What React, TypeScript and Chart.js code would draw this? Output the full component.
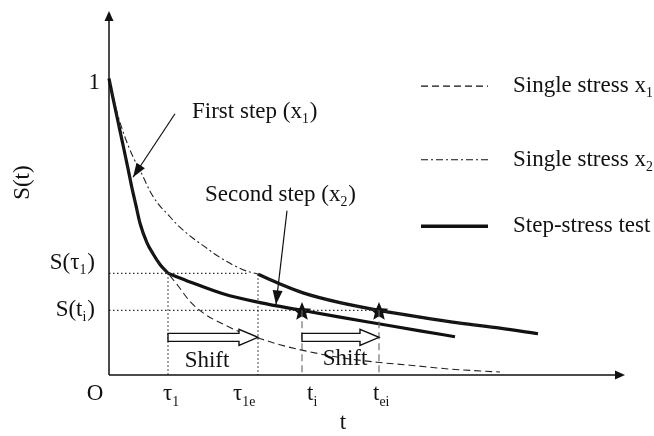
import React, { useEffect, useRef } from "react";
import { Chart, registerables } from "chart.js";

Chart.register(...registerables);

// ---------- data (t in time units, S = survival probability) ----------
const stepFirstT = [0, 0.4, 0.9, 1.4, 1.9, 2.3, 2.7, 3.1, 3.8, 4.4, 5.1, 5.9];
const stepFirstS = [1.0, 0.934, 0.855, 0.776, 0.696, 0.63, 0.571, 0.512, 0.446, 0.409, 0.373, 0.343];

const stepSecondT = [5.9, 8.1, 11.4, 15.1, 19.3, 23.1, 27.1, 31.1, 34.6];
const stepSecondS = [0.343, 0.314, 0.274, 0.244, 0.218, 0.195, 0.172, 0.149, 0.129];

const shiftedT = [14.9, 17.1, 19.4, 23.1, 27.0, 31.1, 35.1, 39.1, 42.9];
const shiftedS = [0.34, 0.307, 0.277, 0.244, 0.218, 0.195, 0.175, 0.158, 0.139];

const single1TailT = [6.9, 8.1, 9.6, 11.4, 13.1, 14.9, 17.1, 19.4, 23.1, 26.8, 30.1, 34.1, 39.1];
const single1TailS = [0.301, 0.248, 0.205, 0.172, 0.145, 0.125, 0.102, 0.083, 0.059, 0.043, 0.033, 0.02, 0.01];

const single2T = [0, 0.4, 0.9, 1.6, 2.4, 3.3, 4.1, 4.9, 5.9, 6.8, 8.1, 9.6, 10.8, 12.3, 13.8, 14.9, 17.1, 19.4, 23.1, 27.0, 31.1, 35.1, 39.6];
const single2S = [1.0, 0.941, 0.875, 0.802, 0.736, 0.677, 0.62, 0.578, 0.541, 0.508, 0.469, 0.432, 0.403, 0.373, 0.35, 0.34, 0.307, 0.277, 0.244, 0.218, 0.195, 0.175, 0.156];

// key times: tau1, tau1e, ti, tei
const keyT = [5.9, 14.9, 19.3, 27.0];
const keyS = [0.343, 0.34, 0.218, 0.218];
const levelEndT = [13.8, 27.0]; // ends of the dotted S(tau1), S(ti) lines
const levelS = [0.343, 0.218];

const starT = [19.3, 27.0];
const starS = [0.216, 0.216];

// tick labels
const tickLabelT = [5.4, 12.4, 19.8, 26.4];
const tickMain = ["\u03c4", "\u03c4", "t", "t"];
const tickSub = ["1", "1e", "i", "ei"];

const legendLabels = ["Single stress x", "Single stress x", "Step-stress test"];
const legendSubs = ["1", "2", ""];

const X_MAX = 51.6;
const Y_MAX = 1.2277;

const FONT = '"Liberation Serif", "Times New Roman", serif';
const FS = 23;

const pts = (t: number[], s: number[]) => t.map((v, i) => ({ x: v, y: s[i] }));

function txt(
  ctx: CanvasRenderingContext2D,
  main: string,
  sub: string,
  tail: string,
  x: number,
  y: number,
  size: number,
  align: "left" | "right" | "center"
) {
  const subSize = size * 0.6;
  ctx.font = `${size}px ${FONT}`;
  const w1 = ctx.measureText(main).width;
  const w3 = ctx.measureText(tail).width;
  ctx.font = `${subSize}px ${FONT}`;
  const w2 = ctx.measureText(sub).width;
  const w = w1 + w2 + w3 + (sub ? 1 : 0);
  let cx = align === "right" ? x - w : align === "center" ? x - w / 2 : x;
  ctx.textAlign = "left";
  ctx.textBaseline = "alphabetic";
  ctx.font = `${size}px ${FONT}`;
  ctx.fillText(main, cx, y);
  cx += w1;
  if (sub) {
    ctx.font = `${subSize}px ${FONT}`;
    ctx.fillText(sub, cx, y + size * 0.22);
    cx += w2 + 1;
  }
  ctx.font = `${size}px ${FONT}`;
  ctx.fillText(tail, cx, y);
}

function makeStar(): HTMLCanvasElement {
  const c = document.createElement("canvas");
  c.width = 22;
  c.height = 22;
  const g = c.getContext("2d")!;
  g.fillStyle = "#111";
  g.beginPath();
  for (let i = 0; i < 10; i++) {
    const r = i % 2 === 0 ? 9.8 : 4.4;
    const a = -Math.PI / 2 + (i * Math.PI) / 5;
    const px = 11 + r * Math.cos(a);
    const py = 11.8 + r * Math.sin(a);
    if (i === 0) g.moveTo(px, py);
    else g.lineTo(px, py);
  }
  g.closePath();
  g.fill();
  return c;
}

function arrowHead(ctx: CanvasRenderingContext2D, x0: number, y0: number, x1: number, y1: number, len: number, half: number) {
  const a = Math.atan2(y1 - y0, x1 - x0);
  ctx.beginPath();
  ctx.moveTo(x1, y1);
  ctx.lineTo(x1 - len * Math.cos(a) + half * Math.sin(a), y1 - len * Math.sin(a) - half * Math.cos(a));
  ctx.lineTo(x1 - len * Math.cos(a) - half * Math.sin(a), y1 - len * Math.sin(a) + half * Math.cos(a));
  ctx.closePath();
  ctx.fill();
}

const schematic = {
  id: "schematic",
  afterDatasetsDraw(chart: any) {
    const ctx: CanvasRenderingContext2D = chart.ctx;
    const xs = chart.scales.x;
    const ys = chart.scales.y;
    const X = (v: number) => xs.getPixelForValue(v);
    const Y = (v: number) => ys.getPixelForValue(v);
    const ca = chart.chartArea;
    ctx.save();
    ctx.fillStyle = "#111";
    ctx.strokeStyle = "#111";

    // axes
    const ox = X(0);
    const oy = Y(0);
    ctx.lineWidth = 1.5;
    ctx.setLineDash([]);
    ctx.beginPath();
    ctx.moveTo(ox, oy);
    ctx.lineTo(ox, ca.top + 8);
    ctx.moveTo(ox, oy);
    ctx.lineTo(ca.right - 8, oy);
    ctx.stroke();
    arrowHead(ctx, ox, oy, ox, ca.top, 10, 4.5);
    arrowHead(ctx, ox, oy, ca.right, oy, 10, 4.5);

    // shift arrows (hollow)
    const shiftY = Y(0.127);
    for (let i = 0; i < 2; i++) {
      const x0 = X(keyT[i * 2]);
      const x1 = X(keyT[i * 2 + 1]);
      const xh = x1 - 19;
      ctx.beginPath();
      ctx.moveTo(x0, shiftY - 4);
      ctx.lineTo(xh, shiftY - 4);
      ctx.lineTo(xh, shiftY - 8);
      ctx.lineTo(x1, shiftY);
      ctx.lineTo(xh, shiftY + 8);
      ctx.lineTo(xh, shiftY + 4);
      ctx.lineTo(x0, shiftY + 4);
      ctx.closePath();
      ctx.fillStyle = "#fff";
      ctx.fill();
      ctx.lineWidth = 1.4;
      ctx.stroke();
    }
    ctx.fillStyle = "#111";

    // pointer arrows
    ctx.lineWidth = 1.2;
    const ptrs = [
      [6.6, 0.881, 2.4, 0.667],
      [17.8, 0.554, 16.7, 0.238],
    ];
    for (const [a, b, c, d] of ptrs) {
      ctx.beginPath();
      ctx.moveTo(X(a), Y(b));
      ctx.lineTo(X(c), Y(d));
      ctx.stroke();
      arrowHead(ctx, X(a), Y(b), X(c), Y(d), 14, 5);
    }

    // texts
    txt(ctx, "First step (x", "1", ")", X(8.3), Y(0.868), FS, "left");
    txt(ctx, "Second step (x", "2", ")", X(9.6), Y(0.587), FS, "left");
    txt(ctx, "Shift", "", "", X(9.8), Y(0.027), FS, "center");
    txt(ctx, "Shift", "", "", X(23.6), Y(0.033), FS, "center");

    // y labels
    txt(ctx, "1", "", "", X(-0.9), Y(0.964), FS, "right");
    txt(ctx, "S(\u03c4", "1", ")", X(-1.4), Y(levelS[0]) - 4, FS, "right");
    txt(ctx, "S(t", "i", ")", X(-1.4), Y(levelS[1]) + 6, FS, "right");
    txt(ctx, "O", "", "", X(-1.4), Y(-0.086), FS, "center");

    // x tick labels
    for (let i = 0; i < tickMain.length; i++) {
      txt(ctx, tickMain[i], tickSub[i], "", X(tickLabelT[i]), Y(-0.086), FS, "left");
    }
    txt(ctx, "t", "", "", X(23.4), Y(-0.181), FS, "center");

    // y title rotated
    ctx.save();
    ctx.translate(23, Y(0.649));
    ctx.rotate(-Math.PI / 2);
    ctx.font = `${FS}px ${FONT}`;
    ctx.textAlign = "center";
    ctx.textBaseline = "middle";
    ctx.fillText("S(t)", 0, 0);
    ctx.restore();

    // legend
    const legY = [0.974, 0.726, 0.502];
    const dashes = [[7, 4], [7, 3, 2, 3], []];
    const widths = [1.2, 1.2, 3.5];
    for (let i = 0; i < 3; i++) {
      ctx.beginPath();
      ctx.setLineDash(dashes[i]);
      ctx.lineWidth = widths[i];
      ctx.moveTo(X(31.2), Y(legY[i]));
      ctx.lineTo(X(37.9), Y(legY[i]));
      ctx.stroke();
      ctx.setLineDash([]);
      txt(ctx, legendLabels[i], legendSubs[i], "", X(40.4), Y(legY[i]) + 6, FS, "left");
    }
    ctx.restore();
  },
};

export default function App() {
  const ref = useRef<HTMLCanvasElement | null>(null);
  useEffect(() => {
    document.body.style.margin = "0";
    const star = makeStar();
    const dotted = { borderColor: "#333", borderWidth: 1.2, borderDash: [1.5, 2.5], pointRadius: 0, tension: 0 };
    const grayDash = { borderColor: "#666", borderWidth: 1.1, borderDash: [7, 4], pointRadius: 0, tension: 0 };
    const datasets: any[] = [
      { label: "S(tau1) level", data: [{ x: 0, y: levelS[0] }, { x: levelEndT[0], y: levelS[0] }], ...dotted },
      { label: "S(ti) level", data: [{ x: 0, y: levelS[1] }, { x: levelEndT[1], y: levelS[1] }], ...dotted },
      { label: "tau1", data: [{ x: keyT[0], y: keyS[0] }, { x: keyT[0], y: 0 }], ...dotted },
      { label: "tau1e", data: [{ x: keyT[1], y: keyS[1] }, { x: keyT[1], y: 0 }], ...dotted },
      { label: "ti", data: [{ x: keyT[2], y: keyS[2] }, { x: keyT[2], y: 0 }], ...grayDash },
      { label: "tei", data: [{ x: keyT[3], y: keyS[3] }, { x: keyT[3], y: 0 }], ...grayDash },
      {
        label: "Single stress x1",
        data: pts([...stepFirstT, ...single1TailT], [...stepFirstS, ...single1TailS]),
        borderColor: "#222",
        borderWidth: 1.1,
        borderDash: [7, 4],
        pointRadius: 0,
        cubicInterpolationMode: "monotone",
      },
      {
        label: "Single stress x2",
        data: pts(single2T, single2S),
        borderColor: "#222",
        borderWidth: 1.1,
        borderDash: [7, 3, 2, 3],
        pointRadius: 0,
        cubicInterpolationMode: "monotone",
      },
      {
        label: "Step-stress first",
        data: pts(stepFirstT, stepFirstS),
        borderColor: "#111",
        borderWidth: 3.2,
        pointRadius: 0,
        cubicInterpolationMode: "monotone",
      },
      {
        label: "Step-stress second",
        data: pts(stepSecondT, stepSecondS),
        borderColor: "#111",
        borderWidth: 3.2,
        pointRadius: 0,
        cubicInterpolationMode: "monotone",
      },
      {
        label: "Step-stress shifted",
        data: pts(shiftedT, shiftedS),
        borderColor: "#111",
        borderWidth: 3.2,
        pointRadius: 0,
        cubicInterpolationMode: "monotone",
      },
      {
        label: "stars",
        data: pts(starT, starS),
        showLine: false,
        pointStyle: star,
        pointRadius: 11,
        borderWidth: 0,
      },
    ];
    const chart = new Chart(ref.current!, {
      type: "line",
      data: { datasets },
      options: {
        animation: false,
        responsive: false,
        devicePixelRatio: 1,
        layout: { padding: { left: 109, right: 29, top: 3, bottom: 61 } },
        plugins: { legend: { display: false }, tooltip: { enabled: false } },
        elements: { line: { fill: false } },
        datasets: { line: { clip: false } } as any,
        scales: {
          x: { type: "linear", min: 0, max: X_MAX, display: false },
          y: { type: "linear", min: 0, max: Y_MAX, display: false },
        },
      },
      plugins: [schematic],
    });
    return () => chart.destroy();
  }, []);
  return <canvas ref={ref} width={654} height={436} style={{ display: "block", width: 654, height: 436 }} />;
}
